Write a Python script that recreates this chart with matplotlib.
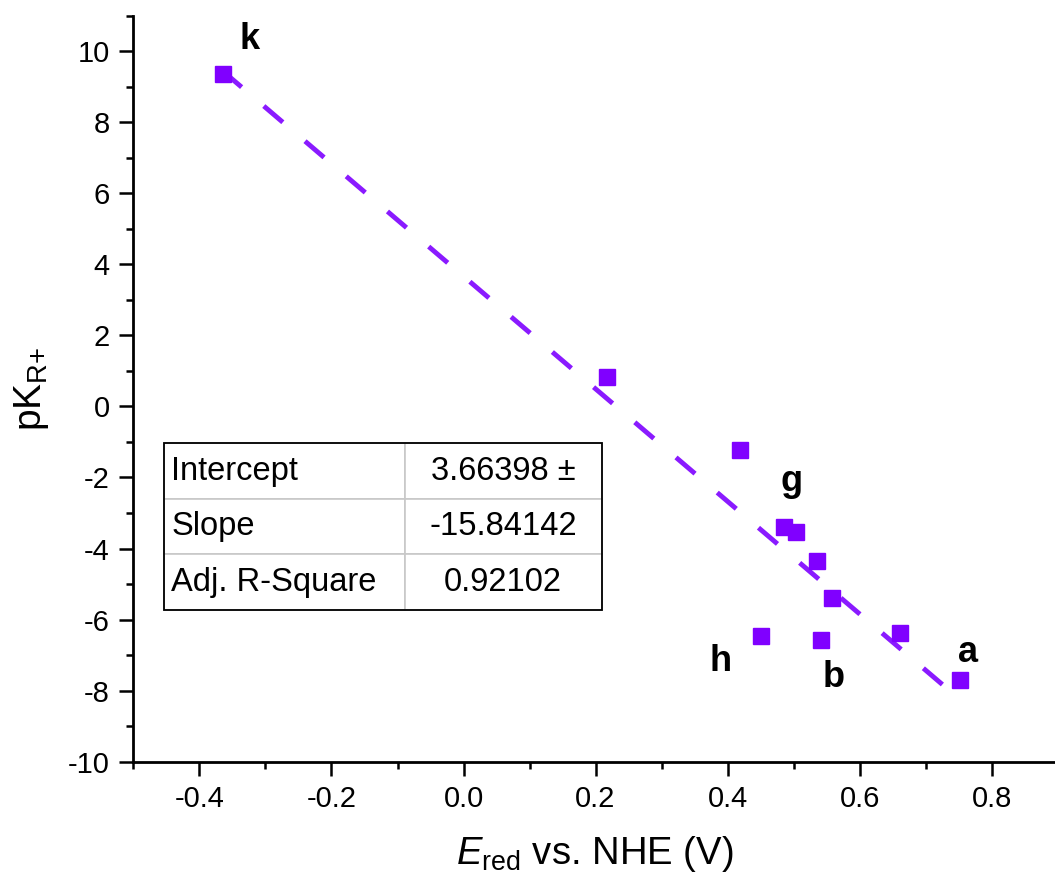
import matplotlib
matplotlib.use('Agg')
import matplotlib.pyplot as plt
from matplotlib.table import Table
from matplotlib.patches import Rectangle
from matplotlib.ticker import MultipleLocator

plt.rcParams['font.family'] = ['Liberation Sans', 'DejaVu Sans']
plt.rcParams['mathtext.fontset'] = 'custom'
plt.rcParams['mathtext.rm'] = 'Liberation Sans'
plt.rcParams['mathtext.it'] = 'Liberation Sans:italic'
plt.rcParams['lines.scale_dashes'] = False

# measured points
e_red = [-0.365, 0.218, 0.419, 0.486, 0.504, 0.536, 0.558, 0.450, 0.541, 0.661, 0.752]
pkr = [9.37, 0.84, -1.23, -3.38, -3.54, -4.35, -5.40, -6.47, -6.58, -6.38, -7.71]

# linear fit result
intercept = 3.66398
slope = -15.84142
fit_rows = ['Intercept', 'Slope', 'Adj. R-Square']
fit_vals = ['3.66398 \u00b1', '-15.84142', '0.92102']

# point labels
labels = ['k', 'g', 'h', 'b', 'a']
label_x = [-0.324, 0.4965, 0.389, 0.560, 0.764]
label_y = [10.05, -2.39, -7.46, -7.89, -7.20]

purple = '#8000FF'

fig = plt.figure(figsize=(10.55, 8.77), dpi=100)
ax = fig.add_axes([0.1265, 0.1315, 0.8735, 0.8506])

xs = [min(e_red), max(e_red)]
ax.plot(xs, [intercept + slope * x for x in xs], color='#8a1aff', lw=3.5,
        dashes=(18, 21), zorder=2)
ax.plot(e_red, pkr, 's', color=purple, ms=12, zorder=3)

for t, x, y in zip(labels, label_x, label_y):
    ax.text(x, y, t, fontsize=26, fontweight='bold', ha='center', va='baseline')

ax.set_xlim(-0.5, 0.896)
ax.set_ylim(-10, 11)
ax.xaxis.set_minor_locator(MultipleLocator(0.1))
ax.yaxis.set_minor_locator(MultipleLocator(1))
ax.set_xticks([-0.4, -0.2, 0.0, 0.2, 0.4, 0.6, 0.8])
ax.set_xticklabels(['-0.4', '-0.2', '0.0', '0.2', '0.4', '0.6', '0.8'])
ax.set_yticks(range(-10, 11, 2))
ax.set_yticklabels([str(v) for v in range(-10, 11, 2)])

for s in ['top', 'right']:
    ax.spines[s].set_visible(False)
for s in ['left', 'bottom']:
    ax.spines[s].set_linewidth(2)
ax.tick_params(which='major', direction='out', length=10, width=1.8, labelsize=21, pad=7)
ax.tick_params(which='minor', direction='out', length=5, width=1.8)

ax.set_xlabel(r'$\mathit{E}_{\mathregular{red}}$ vs. NHE (V)', fontsize=27.5)
ax.xaxis.set_label_coords(0.5, -0.097)
ax.xaxis.label.set_va('top')
ax.set_ylabel(r'pK$_{\mathregular{R{+}}}$', fontsize=28)
ax.yaxis.set_label_coords(-0.089, 0.5)

# fit table
bx, by, bw, bh = 0.0331, 0.2034, 0.475, 0.2235
tab = Table(ax, bbox=[bx, by, bw, bh])
for i, (name, val) in enumerate(zip(fit_rows, fit_vals)):
    c0 = tab.add_cell(i, 0, width=0.55, height=1, text=name, loc='left',
                      edgecolor='#c8c8c8', facecolor='white')
    c1 = tab.add_cell(i, 1, width=0.45, height=1, text=val, loc='center',
                      edgecolor='#c8c8c8', facecolor='white')
    c0.PAD = 0.03
    for c in (c0, c1):
        c.set_linewidth(1.2)
tab.auto_set_font_size(False)
tab.set_fontsize(23.5)
ax.add_table(tab)
ax.add_patch(Rectangle((bx, by), bw, bh, transform=ax.transAxes, fill=False,
                       edgecolor='black', lw=1.3, zorder=5, clip_on=False))

fig.savefig('out.png', dpi=100)
